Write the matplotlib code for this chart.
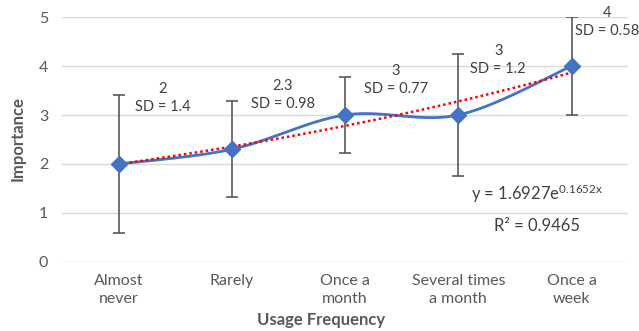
import numpy as np
import matplotlib
matplotlib.use("Agg")
import matplotlib.pyplot as plt

categories = ["Almost\nnever", "Rarely", "Once a\nmonth", "Several times\na month", "Once a\nweek"]
means = [2, 2.3, 3, 3, 4]
err = [1.41, 0.98, 0.77, 1.24, 1.0]
mean_labels = ["2", "2.3", "3", "3", "4"]
sd_labels = ["1.4", "0.98", "0.77", "1.2", "0.58"]
fit_a, fit_b = 1.6927, 0.1652
r2 = 0.9465
yticks = [0, 1, 2, 3, 4, 5]

# label offsets in pixels (layout)
label_offsets = [(44, 66), (51, 54), (51, 35), (40, 55), (36, 44)]

plt.rcParams['font.family'] = ['Lato', 'DejaVu Sans']
plt.rcParams['mathtext.fontset'] = 'custom'
plt.rcParams['mathtext.rm'] = 'Lato'
plt.rcParams['mathtext.it'] = 'Lato'
gray = '#595959'
blue = '#4472C4'

fig = plt.figure(figsize=(6.39, 3.31), dpi=100)
ax = fig.add_axes([0.097, 0.2085, 0.886, 0.7401])

x = np.arange(len(categories))
y = np.array(means, dtype=float)

# Catmull-Rom smoothed line (Excel-like smoothing)
P = np.column_stack([x, y])
curve = []
for i in range(len(P) - 1):
    p0 = P[i - 1] if i > 0 else P[i]
    p1 = P[i]
    p2 = P[i + 1]
    p3 = P[i + 2] if i + 2 < len(P) else P[i + 1]
    c1 = p1 + (p2 - p0) / 6.0
    c2 = p2 - (p3 - p1) / 6.0
    t = np.linspace(0, 1, 60)[:, None]
    seg = (1 - t) ** 3 * p1 + 3 * (1 - t) ** 2 * t * c1 + 3 * (1 - t) * t ** 2 * c2 + t ** 3 * p2
    curve.append(seg)
curve = np.vstack(curve)

for v in yticks:
    ax.axhline(v, color='#d9d9d9', lw=1, zorder=0)

ax.errorbar(x, y, yerr=err, fmt='none', ecolor='#595959', elinewidth=1.2,
            capsize=4, capthick=1.2, zorder=2)
ax.plot(curve[:, 0], curve[:, 1], color=blue, lw=2, zorder=3)

xf = np.linspace(0, len(x) - 1, 100)
ax.plot(xf, fit_a * np.exp(fit_b * (xf + 1)), color='#ff0000', lw=1.8,
        linestyle=(0, (1, 1.2)), zorder=4)

ax.plot(x, y, linestyle='none', marker='D', markersize=8, color=blue, zorder=5)

for i in range(len(x)):
    ax.annotate(f"{mean_labels[i]}\nSD = {sd_labels[i]}", xy=(x[i], y[i]),
                xytext=label_offsets[i], textcoords='offset pixels',
                ha='center', va='center', fontsize=10.5, color='#404040',
                linespacing=1.35, zorder=6)

ax.text(0.839, 0.278, r"y = 1.6927e$^{\mathrm{0.1652x}}$", transform=ax.transAxes,
        ha='center', va='center', fontsize=12, color='#404040')
ax.text(0.839, 0.148, f"R² = {r2}", transform=ax.transAxes,
        ha='center', va='center', fontsize=12, color='#404040')

ax.set_xlim(-0.5, len(x) - 0.5)
ax.set_ylim(0, 5)
ax.set_yticks(yticks)
ax.set_xticks(x)
ax.set_xticklabels(categories, fontsize=11.5, color=gray, linespacing=1.3)
ax.tick_params(axis='y', labelsize=11.5, labelcolor=gray, length=0, pad=10)
ax.tick_params(axis='x', length=0, pad=9)
for s in ax.spines.values():
    s.set_visible(False)

fig.text(0.503, 0.033, "Usage Frequency", ha='center', va='center',
         fontsize=12, fontweight='bold', color=gray)
fig.text(0.028, 0.58, "Importance", ha='center', va='center', rotation=90,
         fontsize=12, fontweight='bold', color=gray)

fig.savefig("out.png", dpi=100)
